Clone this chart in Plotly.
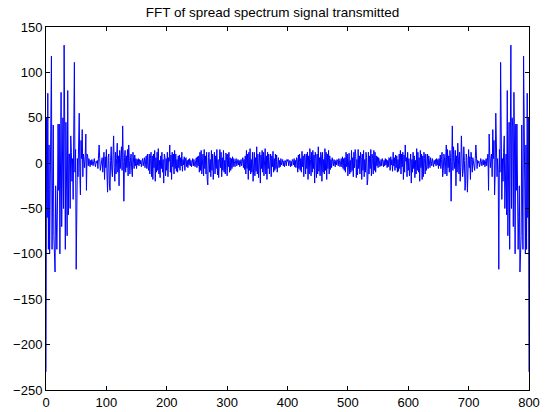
import plotly.graph_objects as go

half_values = [
    -230, 50, -60, 77, -95, 20, -100, -35, -5, 118,
    -95, -40, 42, -80, -100, -120, -25, -60, -95, -45,
    43, -30, 43, -100, 20, 78, -70, 40, 50, -50,
    130, 40, -95, 45, -40, -80, 80, -57, 10, 10,
    -50, 30, 12, -20, 5, -40, 25, 111, -10, 15,
    -117, -10, 5, -15, 10, 55, -10, -35, 25, 5,
    37, -15, 10, 5, -5, 8, 32, -30, 10, 8,
    -3, 5, 2, -4, 3, -2, 4, 1, -3, 2,
    5, -1, -4, 2, 0, 3, -6, 8, 20, 5,
    -8, -3, 2, 6, -10, 4, 12, -18, 7, -5,
    15, -12, -32, 6, 10, -22, -30, 3, 18, -8,
    -15, 9, 30, -5, -20, 12, -12, 5, 22, -10,
    8, -25, 14, -6, 3, 18, -8, 41, 2, -42,
    6, 14, -10, 8, -5, 15, -14, 20, 3, -12,
    6, 10, -8, -15, 12, 4, -6, 9, -3, 5,
    -6, 4, -2, 5, -3, 4, -1, 3, -4, 2,
    5, -3, 2, 6, -5, 1, 8, -6, 10, -4,
    -8, 10, -12, 5, 12, -15, 8, -18, 10, -5,
    14, -20, 6, -10, 12, -8, 16, -12, 3, -16,
    8, -6, 12, -10, 4, -22, 10, 6, -14, 5,
    -8, 12, -15, 6, 2, 20, -10, 9, -18, 12,
    -4, 10, -12, 14, -6, 10, -9, 4, -10, 8,
    -5, 9, -8, 6, -3, 12, -9, 4, -2, 7,
    -8, 5, 6, -4, 3, -5, 4, -2, 5, -3,
    3, -4, 2, 5, -3, 4, -2, -4, 3, 6,
    -5, 7, -3, 8, -10, 12, -8, 14, -12, 5,
    10, -14, 15, -6, 8, -12, 12, -18, -24, 6,
    12, -10, 4, -15, 14, -8, 10, -18, 6, 12,
    -12, 8, -6, 15, -13, 4, -16, 10, 15, -5,
    12, -15, 6, -8, 14, -10, 3, -12, 11, 8,
    -14, 10, -4, 12, -10, 6, -8, 5, -6, 7,
    -4, 5, 2, -4, 3, 5, -3, 2, 4, -2,
    3, -4, 1, 4, -3, 2, 6, -5, 4, -7,
    8, -12, 14, -6, 10, -18, 12, -8, 16, -12,
    4, -10, 12, -20, 8, 12, -14, 6, -9, 18,
    -12, 10, -16, 5, 12, -22, 9, -6, 14, -10,
    12, -14, 4, 16, -12, 8, -18, 12, -6, 10,
    -12, 6, 10, -15, 8, -4, 13, -10, 5, -8,
    10, -6, 9, -10, 4, 6, -5, 3, -4, 5,
    -2, 3, 4, -3, 2, -4, 3, 1, -3, 4,
    2,
]

# Real part of FFT of a real signal is symmetric: X[k] = X[N-k]
fft_values = half_values + half_values[-2::-1]
freq_index = list(range(len(fft_values)))

x_ticks = [0, 100, 200, 300, 400, 500, 600, 700, 800]
y_ticks = [-250, -200, -150, -100, -50, 0, 50, 100, 150]

fig = go.Figure(
    go.Scatter(
        x=freq_index,
        y=fft_values,
        mode="lines",
        line=dict(color="#0000FF", width=1),
        showlegend=False,
    )
)

axis_common = dict(
    showline=True,
    linecolor="black",
    linewidth=1,
    mirror="ticks",
    ticks="inside",
    ticklen=4,
    tickcolor="black",
    showgrid=False,
    zeroline=False,
    automargin=False,
    tickfont=dict(family="Liberation Sans, Arial, sans-serif", size=13, color="black"),
)

fig.update_layout(
    width=545,
    height=412,
    paper_bgcolor="white",
    plot_bgcolor="white",
    margin=dict(l=46, r=16, t=27, b=22),
    title=dict(
        text="FFT of spread spectrum signal transmitted",
        x=0.5,
        xanchor="center",
        y=0.971,
        yanchor="middle",
        font=dict(family="Liberation Sans, Arial, sans-serif", size=13.5, color="black"),
    ),
    xaxis=dict(range=[0, 800], tickvals=x_ticks, **axis_common),
    yaxis=dict(range=[-250, 150], tickvals=y_ticks, **axis_common),
)

fig.write_html("out.html")
